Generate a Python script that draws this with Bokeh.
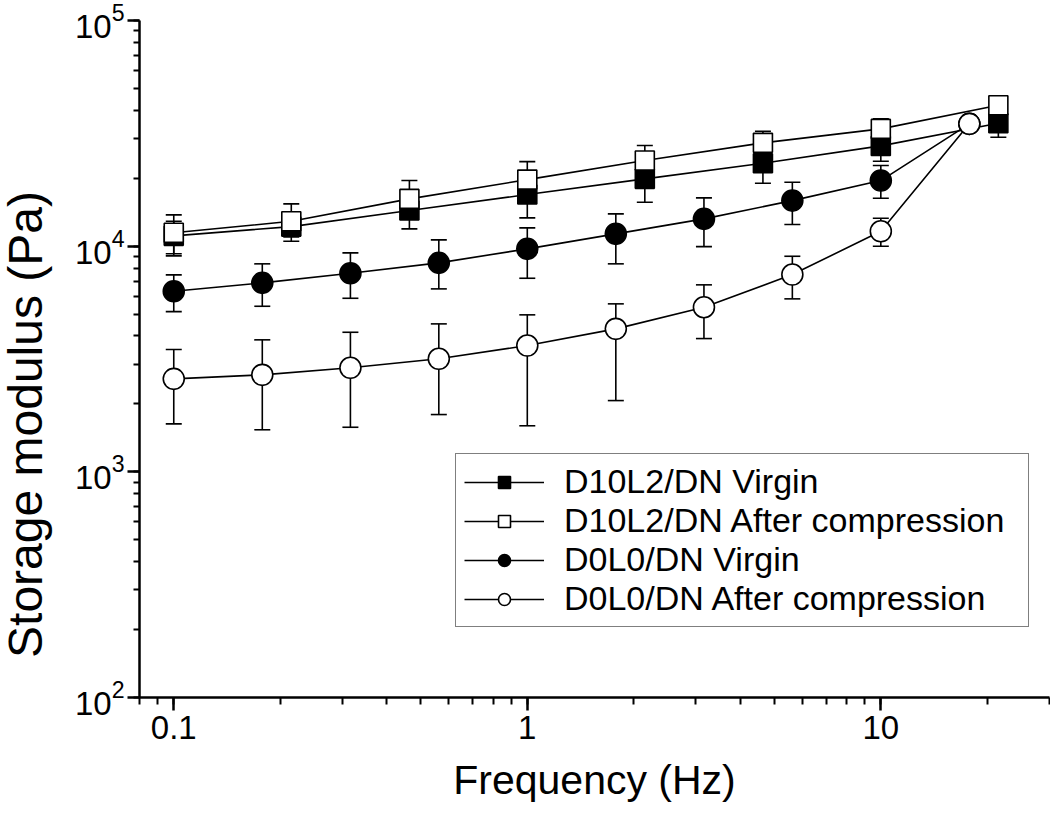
import math
from bokeh.plotting import figure
from bokeh.models import (ColumnDataSource, Whisker, TeeHead, Legend, LegendItem,
                          NumeralTickFormatter, Label)
from bokeh.embed import file_html
from bokeh.resources import INLINE

# ---- data ----
freq_sq = [0.1, 0.215, 0.464, 1.0, 2.15, 4.64, 10.0, 21.5]
freq_ci = [0.1, 0.178, 0.316, 0.562, 1.0, 1.78, 3.16, 5.62, 10.0, 17.8]

d10_virgin = [11110, 12210, 14380, 16930, 19870, 23290, 27820, 35040]
d10_virgin_lo = [9060, 10510, 11930, 13350, 15650, 19000, 23800, 30380]
d10_virgin_hi = [12900, 13430, 16750, 19990, 23770, 26520, 31900, 38000]

d10_after = [11460, 12890, 16200, 19720, 23950, 28690, 33090, 42100]
d10_after_lo = [9250, 11000, 14000, 17500, 21500, 26520, 31640, 40000]
d10_after_hi = [13760, 15390, 19530, 23700, 27910, 32290, 36650, 44500]

d0_virgin = [6310, 6876, 7585, 8433, 9730, 11340, 13210, 15920, 19530, 34830]
d0_virgin_lo = [5130, 5416, 5876, 6467, 7208, 8350, 9955, 12470, 16300, 33000]
d0_virgin_hi = [7460, 8350, 9340, 10660, 12050, 13900, 16370, 19190, 22760, 36800]

d0_after = [2582, 2690, 2890, 3168, 3627, 4301, 5362, 7484, 11640, 34830]
d0_after_lo = [1632, 1536, 1576, 1794, 1600, 2069, 3895, 5841, 9990, 33000]
d0_after_hi = [3483, 3845, 4154, 4525, 4962, 5551, 6739, 9021, 13290, 36800]

labels = ["D10L2/DN Virgin", "D10L2/DN After compression",
          "D0L0/DN Virgin", "D0L0/DN After compression"]

FONT = "Liberation Sans"

p = figure(width=1050, height=814, x_axis_type="log", y_axis_type="log",
           x_range=(0.08, 30), y_range=(100, 1e5),
           output_backend="svg", toolbar_location=None,
           min_border_left=139, min_border_right=1, min_border_top=20,
           min_border_bottom=117)
p.outline_line_color = None
p.grid.visible = False
p.background_fill_color = "white"

for ax in (p.xaxis[0], p.yaxis[0]):
    ax.axis_line_width = 2.5
    ax.axis_line_color = "black"
    ax.major_tick_line_width = 2.5
    ax.minor_tick_line_width = 2
    ax.major_tick_line_color = "black"
    ax.minor_tick_line_color = "black"
    ax.major_tick_in = 0
    ax.minor_tick_in = 0
    ax.major_label_text_font = FONT
    ax.major_label_text_font_size = "33px"
    ax.major_label_text_color = "black"

p.xaxis.major_tick_out = 13
p.xaxis.minor_tick_out = 7
p.yaxis.major_tick_out = 12
p.yaxis.minor_tick_out = 6
p.xaxis.major_label_standoff = 5
p.yaxis.major_label_standoff = 3
p.xaxis.formatter = NumeralTickFormatter(format="0.[0]")

p.xaxis.axis_label = "Frequency (Hz)"
p.xaxis.axis_label_text_font = FONT
p.xaxis.axis_label_text_font_size = "41px"
p.xaxis.axis_label_text_font_style = "normal"
p.xaxis.axis_label_text_color = "black"
p.xaxis.axis_label_standoff = 15

series = [
    (freq_sq, d10_virgin, d10_virgin_lo, d10_virgin_hi, "square", "black", 19),
    (freq_sq, d10_after, d10_after_lo, d10_after_hi, "square", "white", 19),
    (freq_ci, d0_virgin, d0_virgin_lo, d0_virgin_hi, "circle", "black", 21),
    (freq_ci, d0_after, d0_after_lo, d0_after_hi, "circle", "white", 21),
]

items = []
for (xs, ys, lo, hi, marker, fill, size), lab in zip(series, labels):
    src = ColumnDataSource(dict(x=xs, y=ys, lo=lo, hi=hi))
    p.add_layout(Whisker(source=src, base="x", upper="hi", lower="lo",
                         line_color="black", line_width=1.6,
                         upper_head=TeeHead(size=16, line_width=1.6, line_color="black"),
                         lower_head=TeeHead(size=16, line_width=1.6, line_color="black")))
    lr = p.line("x", "y", source=src, line_color="black", line_width=1.6)
    sr = p.scatter("x", "y", source=src, marker=marker, size=size,
                   fill_color=fill, line_color="black", line_width=1.6)
    items.append(LegendItem(label=lab, renderers=[lr, sr]))

legend = Legend(items=items, location=(316, 70),
                label_text_font=FONT, label_text_font_size="34px",
                label_text_color="black",
                glyph_width=80, glyph_height=30, label_height=30,
                label_width=456,
                label_standoff=20, spacing=0, padding=8, margin=0,
                border_line_color="black", border_line_width=1.8,
                background_fill_color="white", background_fill_alpha=1.0)
p.add_layout(legend, "center")

# y-axis title placed in the left side panel, in canvas pixels
ylab = Label(x=25, y=424, x_units="canvas", y_units="canvas",
             text="Storage modulus (Pa)", angle=math.pi / 2,
             text_align="center", text_baseline="middle",
             text_font=FONT, text_font_size="48px", text_color="black")
p.add_layout(ylab, "left")

open("out.html", "w").write(file_html(p, INLINE))
